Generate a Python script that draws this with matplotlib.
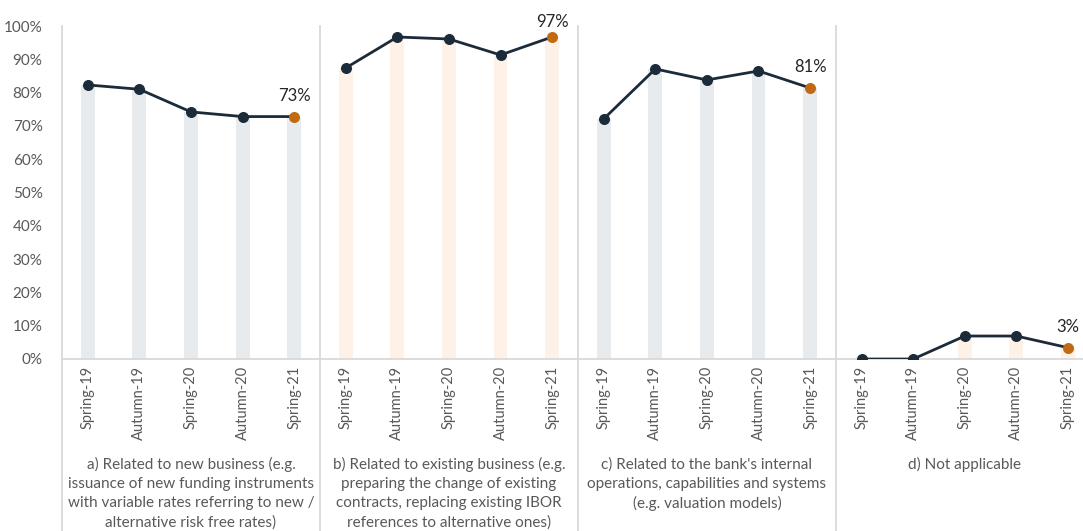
import matplotlib
matplotlib.use("Agg")
import matplotlib.pyplot as plt
import matplotlib.transforms as mtransforms
import numpy as np

periods = ["Spring-19", "Autumn-19", "Spring-20", "Autumn-20", "Spring-21"]
groups = [
    "a) Related to new business (e.g.\nissuance of new funding instruments\nwith variable rates referring to new /\nalternative risk free rates)",
    "b) Related to existing business (e.g.\npreparing the change of existing\ncontracts, replacing existing IBOR\nreferences to alternative ones)",
    "c) Related to the bank's internal\noperations, capabilities and systems\n(e.g. valuation models)",
    "d) Not applicable",
]
vals_a = [82.3, 81.0, 74.2, 72.8, 72.8]
vals_b = [87.4, 96.7, 96.1, 91.3, 96.7]
vals_c = [72.1, 87.1, 83.8, 86.5, 81.4]
vals_d = [0.0, 0.0, 6.9, 6.9, 3.4]
last_labels = ["73%", "97%", "81%", "3%"]
series = [vals_a, vals_b, vals_c, vals_d]

bar_colors = ["#E7EBEE", "#FDF1E8", "#E7EBEE", "#FDF1E8"]
line_color = "#1C2B39"
last_color = "#C26A12"
grid_color = "#D9D9D9"
text_color = "#595959"
label_offsets = [9, 5, 9, 9]

plt.rcParams['font.family'] = ['Lato', 'DejaVu Sans']

W, H = 1083, 531
fig = plt.figure(figsize=(W / 100, H / 100), dpi=100)
left_px, right_px, top_px, bot_px = 62, 1083, 26, 359
ax = fig.add_axes([left_px / W, 1 - bot_px / H, (right_px - left_px) / W, (bot_px - top_px) / H])

n = len(periods)
for g, vals in enumerate(series):
    x = np.arange(n) + g * n
    ax.bar(x, vals, width=0.27, color=bar_colors[g], zorder=1)
    ax.plot(x, vals, color=line_color, lw=2, zorder=3)
    ax.scatter(x[:-1], vals[:-1], s=48, color=line_color, zorder=4)
    ax.scatter(x[-1:], vals[-1:], s=48, color=last_color, zorder=5)
    ax.annotate(last_labels[g], (x[-1], vals[-1]), xytext=(0, label_offsets[g]), textcoords="offset points",
                ha="center", va="bottom", fontsize=12, color="#262626")

ax.set_ylim(0, 100)
ax.set_xlim(-0.5, 19.29)
ax.set_yticks(np.arange(0, 101, 10))
ax.set_yticklabels([f"{v}%" for v in range(0, 101, 10)], fontsize=11, color=text_color)
ax.set_xticks(np.arange(4 * n))
ax.set_xticklabels(periods * 4, rotation=90, fontsize=10.5, color=text_color)
ax.tick_params(axis="both", length=0, pad=5)
ax.tick_params(axis="y", pad=14)
for s in ["top", "right", "left"]:
    ax.spines[s].set_visible(False)
ax.spines["bottom"].set_color(grid_color)
ax.spines["bottom"].set_linewidth(1.3)

ext = -(H - bot_px) / (bot_px - top_px)
for xs in [-0.5, 4.5, 9.5, 14.5]:
    ax.axvline(xs, ymin=ext, ymax=1.0, color=grid_color, lw=1.3, clip_on=False, zorder=0)

trans = mtransforms.blended_transform_factory(ax.transData, ax.transAxes)
for g, label in enumerate(groups):
    ax.text(g * n + 2, -0.295, label, transform=trans, ha="center", va="top",
            fontsize=11, color=text_color, linespacing=1.45)

fig.savefig("out.png", dpi=100)
